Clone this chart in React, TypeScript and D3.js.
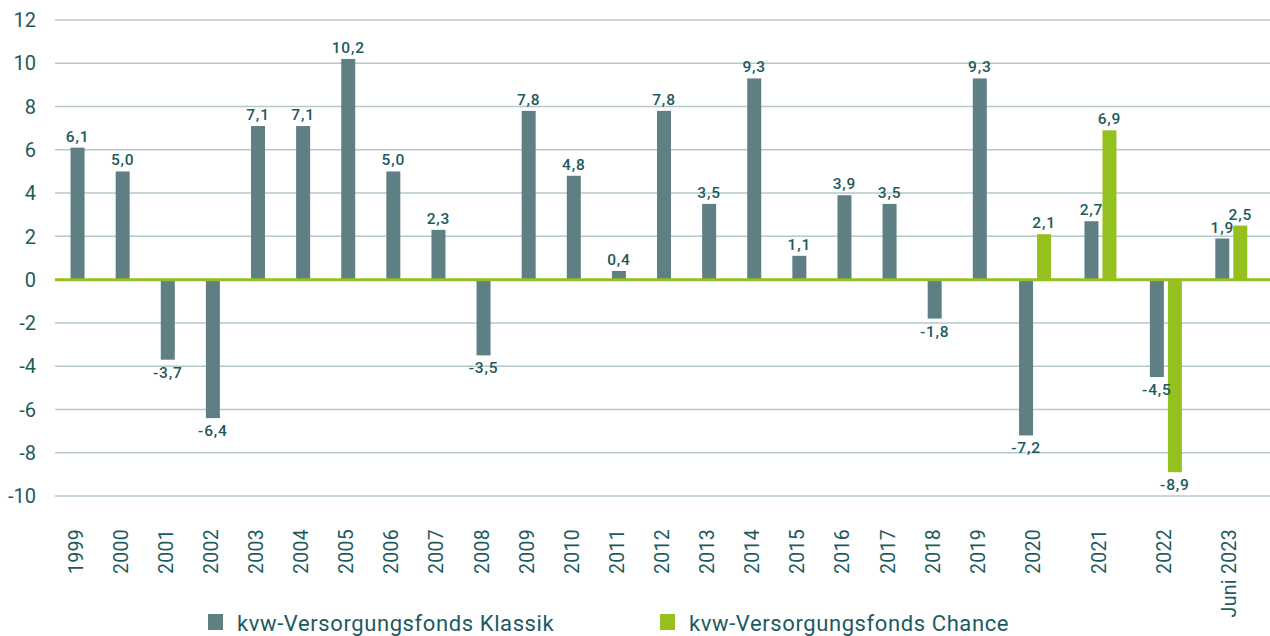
import React, { useEffect, useRef } from 'react';
import * as d3 from 'd3';

const categories = ['1999', '2000', '2001', '2002', '2003', '2004', '2005', '2006', '2007', '2008', '2009', '2010', '2011', '2012', '2013', '2014', '2015', '2016', '2017', '2018', '2019', '2020', '2021', '2022', 'Juni 2023'];
const klassik = [6.1, 5.0, -3.7, -6.4, 7.1, 7.1, 10.2, 5.0, 2.3, -3.5, 7.8, 4.8, 0.4, 7.8, 3.5, 9.3, 1.1, 3.9, 3.5, -1.8, 9.3, -7.2, 2.7, -4.5, 1.9];
const chance: (number | null)[] = [null, null, null, null, null, null, null, null, null, null, null, null, null, null, null, null, null, null, null, null, null, 2.1, 6.9, -8.9, 2.5];
const yTicks = [12, 10, 8, 6, 4, 2, 0, -2, -4, -6, -8, -10];
const seriesNames = ['kvw-Versorgungsfonds Klassik', 'kvw-Versorgungsfonds Chance'];

const W = 1270;
const H = 636;
const teal = '#5e8084';
const green = '#95c11f';
const textColor = '#1d5a5e';
const font = 'Roboto, "Noto Sans", sans-serif';

const fmt = (v: number) => v.toFixed(1).replace('.', ',');

const App: React.FC = () => {
  const ref = useRef<SVGSVGElement | null>(null);

  useEffect(() => {
    if (!ref.current) return;
    const svg = d3.select(ref.current);
    svg.selectAll('*').remove();

    // categories with two bars take more room
    const weights = categories.map((_, i) => (chance[i] !== null ? 1.45 : 1));
    const starts: number[] = [];
    let acc = 0;
    weights.forEach(w => { starts.push(acc); acc += w; });

    const x = d3.scaleLinear().domain([0, acc]).range([55, 1264]);
    const y = d3.scaleLinear().domain([-10, 12]).range([496, 20]);
    const center = (i: number) => x(starts[i] + weights[i] / 2);

    const barW = 14;

    // grid
    svg.append('g')
      .selectAll('line')
      .data(yTicks.filter(t => t !== 0))
      .enter().append('line')
      .attr('x1', 55).attr('x2', W)
      .attr('y1', d => y(d)).attr('y2', d => y(d))
      .attr('stroke', '#b5c8ca')
      .attr('stroke-width', 1.5);

    svg.append('g')
      .selectAll('text')
      .data(yTicks)
      .enter().append('text')
      .attr('x', 36)
      .attr('y', d => y(d))
      .attr('dy', '0.36em')
      .attr('text-anchor', 'end')
      .attr('fill', textColor)
      .attr('font-family', font)
      .attr('font-size', 20)
      .text(d => `${d}`);

    type Bar = { i: number; v: number; color: string; off: number };
    const bars: Bar[] = [];
    categories.forEach((_, i) => {
      const c = chance[i];
      if (c === null) {
        bars.push({ i, v: klassik[i], color: teal, off: 0 });
      } else {
        bars.push({ i, v: klassik[i], color: teal, off: -9 });
        bars.push({ i, v: c, color: green, off: 9 });
      }
    });

    svg.append('g')
      .selectAll('rect')
      .data(bars)
      .enter().append('rect')
      .attr('x', d => center(d.i) + d.off - barW / 2)
      .attr('width', barW)
      .attr('y', d => y(Math.max(0, d.v)))
      .attr('height', d => Math.abs(y(d.v) - y(0)))
      .attr('fill', d => d.color);

    svg.append('g')
      .selectAll('text')
      .data(bars)
      .enter().append('text')
      .attr('x', d => center(d.i) + d.off)
      .attr('y', d => (d.v >= 0 ? y(d.v) - 6 : y(d.v) + 18))
      .attr('text-anchor', 'middle')
      .attr('fill', textColor)
      .attr('font-family', font)
      .attr('font-weight', 500)
      .attr('font-size', 15.5)
      .attr('letter-spacing', 0.8)
      .text(d => fmt(d.v));

    // zero line
    svg.append('line')
      .attr('x1', 55).attr('x2', W)
      .attr('y1', y(0)).attr('y2', y(0))
      .attr('stroke', green)
      .attr('stroke-width', 3);

    // x labels
    svg.append('g')
      .selectAll('text')
      .data(categories)
      .enter().append('text')
      .attr('transform', (_, i) => `translate(${center(i) - 2},529) rotate(-90)`)
      .attr('dy', '0.36em')
      .attr('text-anchor', 'end')
      .attr('fill', textColor)
      .attr('font-family', font)
      .attr('font-size', 19.5)
      .attr('letter-spacing', 0.3)
      .text(d => d);

    // legend
    const legendX = [208, 660];
    const lg = svg.append('g')
      .selectAll('g')
      .data(seriesNames)
      .enter().append('g')
      .attr('transform', (_, i) => `translate(${legendX[i]},614)`);
    lg.append('rect')
      .attr('width', 15).attr('height', 16)
      .attr('fill', (_, i) => (i === 0 ? teal : green));
    lg.append('text')
      .attr('x', 29)
      .attr('y', 17)
      .attr('fill', textColor)
      .attr('font-family', font)
      .attr('font-size', 22)
      .attr('letter-spacing', 0.6)
      .text(d => d);
  }, []);

  return (
    <svg
      ref={ref}
      width={W}
      height={H}
      style={{ position: 'absolute', left: 0, top: 0, display: 'block', background: '#fff' }}
    />
  );
};

export default App;
